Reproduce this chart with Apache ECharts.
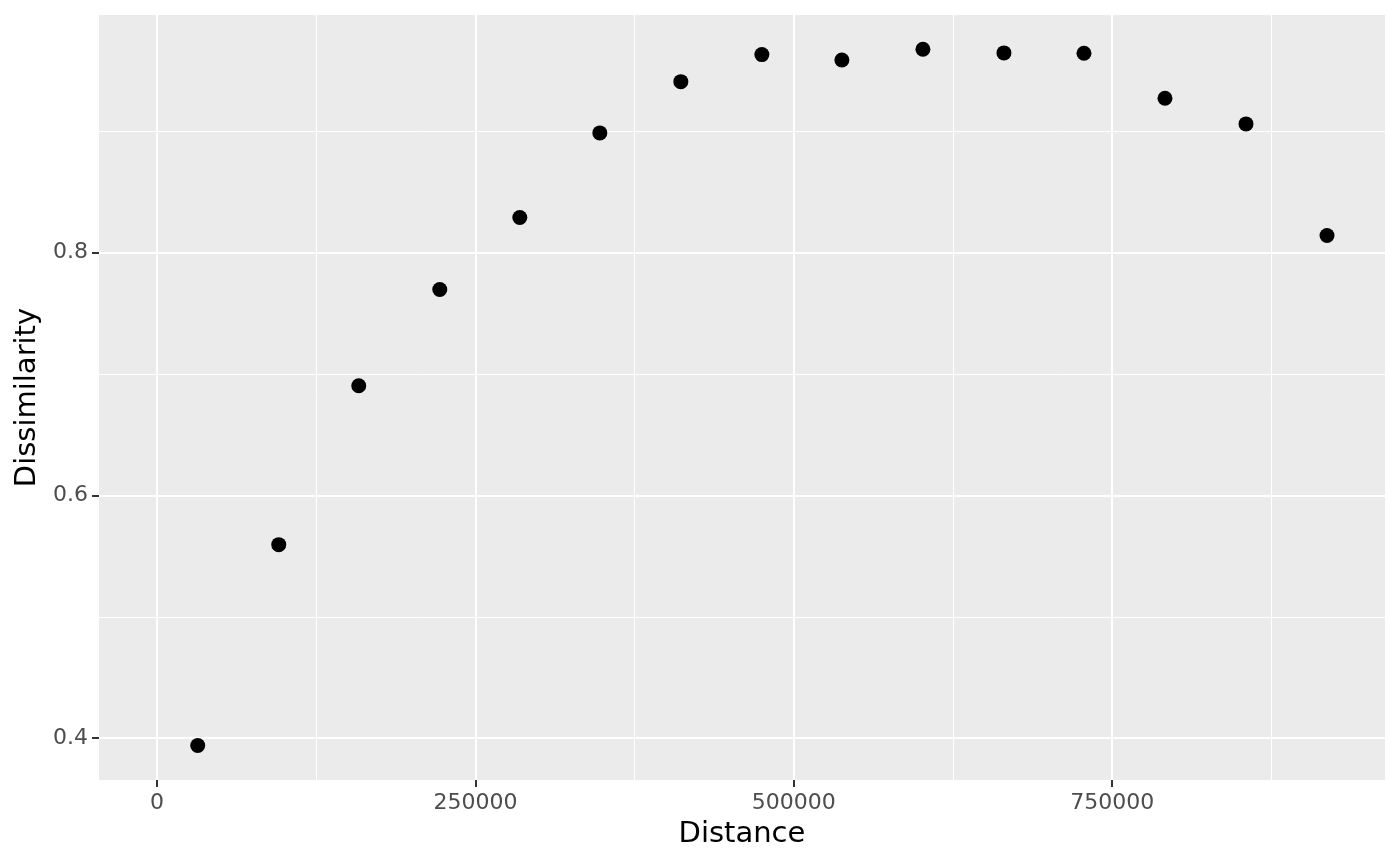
<!DOCTYPE html>
<html>
<head>
<meta charset="utf-8">
<script src="https://cdn.jsdelivr.net/npm/echarts@6/dist/echarts.min.js"></script>
<style>
  html, body { margin: 0; padding: 0; background: #fff; }
  #chart { width: 1400px; height: 865px; }
</style>
</head>
<body>
<div id="chart"></div>
<script>
// distance bins and mean dissimilarity
const distance = [31970, 95590, 158400, 222030, 284860, 347700, 411320, 474940,
  537780, 601400, 665020, 727860, 791470, 855090, 918710]
const dissimilarity = [0.3940, 0.5594, 0.6903, 0.7695, 0.8288, 0.8985, 0.9407, 0.9630,
  0.9586, 0.9674, 0.9644, 0.9641, 0.9271, 0.9059, 0.8140]

const xMajor = [0, 250000, 500000, 750000]
const xMinor = [125000, 375000, 625000, 875000]
const yMajor = [0.4, 0.6, 0.8]
const yMinor = [0.5, 0.7, 0.9]

const font = 'DejaVu Sans'
const xRange = [-45550, 964236]
const yRange = [0.3656, 0.9956]

const chart = echarts.init(document.getElementById('chart'))

const majorAxis = (values, extra) => Object.assign({
  type: 'value',
  axisLine: { show: false, onZero: false },
  axisTick: { show: true, length: 7, customValues: values, lineStyle: { color: '#333333', width: 2 } },
  splitLine: { show: true, lineStyle: { color: '#ffffff', width: 2 } }
}, extra)

const minorAxis = (values, extra) => Object.assign({
  type: 'value',
  axisLine: { show: false, onZero: false },
  axisTick: { show: false, customValues: values },
  axisLabel: { show: false, customValues: values },
  splitLine: { show: true, lineStyle: { color: '#ffffff', width: 1 } }
}, extra)

const option = {
  animation: false,
  grid: {
    left: 99, right: 15, top: 15, bottom: 85,
    outerBoundsMode: 'none',
    containLabel: false,
    show: true, backgroundColor: '#ebebeb', borderWidth: 0
  },
  xAxis: [
    minorAxis(xMinor, { position: 'bottom', min: xRange[0], max: xRange[1] }),
    majorAxis(xMajor, {
      position: 'bottom',
      min: xRange[0],
      max: xRange[1],
      name: 'Distance',
      nameLocation: 'middle',
      nameGap: 40,
      nameTextStyle: { color: '#000', fontFamily: font, fontSize: 29 },
      axisLabel: {
        customValues: xMajor, color: '#4d4d4d', fontFamily: font, fontSize: 22, margin: 12,
        formatter: v => String(v)
      }
    })
  ],
  yAxis: [
    minorAxis(yMinor, { position: 'left', min: yRange[0], max: yRange[1] }),
    majorAxis(yMajor, {
      position: 'left',
      min: yRange[0],
      max: yRange[1],
      name: 'Dissimilarity',
      nameLocation: 'middle',
      nameGap: 57,
      nameTextStyle: { color: '#000', fontFamily: font, fontSize: 29 },
      axisLabel: {
        customValues: yMajor, color: '#4d4d4d', fontFamily: font, fontSize: 22, margin: 11,
        formatter: v => v.toFixed(1)
      }
    })
  ],
  series: [
    {
      type: 'scatter',
      xAxisIndex: 1,
      yAxisIndex: 1,
      symbolSize: 15,
      itemStyle: { color: '#000000', opacity: 1 },
      data: distance.map((d, i) => [d, dissimilarity[i]])
    }
  ]
}

chart.setOption(option)
</script>
</body>
</html>
